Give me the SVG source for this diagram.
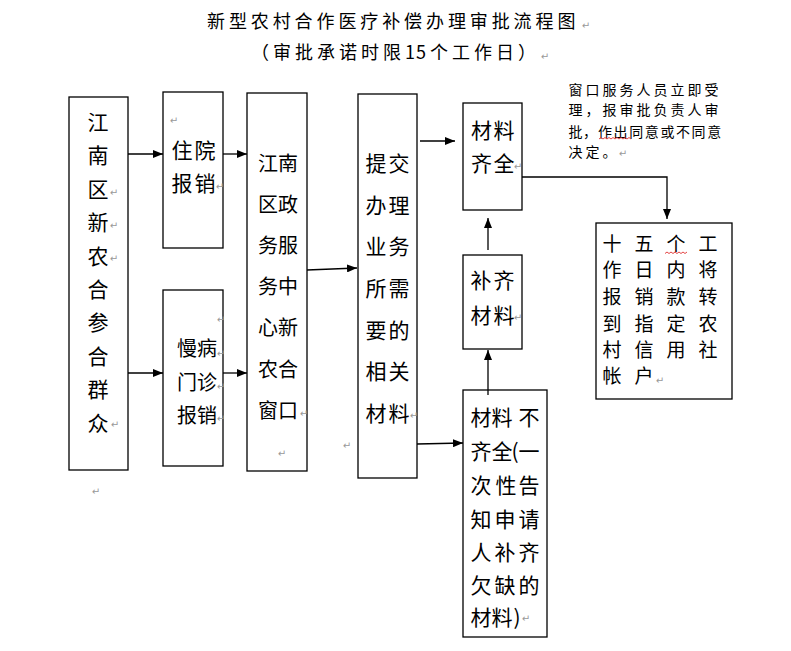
<svg xmlns="http://www.w3.org/2000/svg" width="791" height="651" viewBox="0 0 791 651">
<style>
.b{fill:#fff;stroke:#000;stroke-width:1.3}
.t{font-family:"Noto Sans CJK SC","Noto Sans CJK JP",sans-serif;fill:#000;text-anchor:middle}
.s{font-family:"Noto Sans CJK SC","Noto Sans CJK JP",sans-serif;fill:#000}
.f21{font-size:21px}
.f20{font-size:20px}
.f19{font-size:19px}
.r{font-family:"DejaVu Sans",sans-serif;font-size:10px;fill:#999;text-anchor:middle}
.c{stroke:#000;stroke-width:1.3;fill:none}
.w{stroke:#e03030;stroke-width:0.9;fill:none}
</style>
<defs>
<marker id="ah" markerUnits="userSpaceOnUse" markerWidth="10" markerHeight="8" refX="10" refY="4" orient="auto">
<path d="M0,0 L10,4 L0,8 z" fill="#000"/>
</marker>
</defs>
<rect width="791" height="651" fill="#fff"/>

<g id="title">
<text class="s" x="207" y="28" font-size="18" letter-spacing="3.9">新型农村合作医疗补偿办理审批流程图</text>
<text class="r" x="586" y="29">↵</text>
<text class="s" x="251" y="59" font-size="18" letter-spacing="4">（审批承诺时限<tspan letter-spacing="1">1</tspan>5个工作日）</text>
<text class="r" x="545" y="60">↵</text>
</g>

<g id="node-qunzhong">
<rect class="b" x="69" y="97" width="59" height="373"/>
<g class="t f21">
<text x="98" y="130">江</text>
<text x="98" y="163.4">南</text>
<text x="98" y="196.8">区</text>
<text x="98" y="230.2">新</text>
<text x="98" y="263.6">农</text>
<text x="98" y="297">合</text>
<text x="98" y="330.4">参</text>
<text x="98" y="363.8">合</text>
<text x="98" y="397.2">群</text>
<text x="98" y="430.6">众</text>
</g>
<text class="r" x="114" y="196">↵</text>
<text class="r" x="114" y="229">↵</text>
<text class="r" x="114" y="262">↵</text>
<text class="r" x="115" y="428">↵</text>
<text class="r" x="96" y="495">↵</text>
</g>

<g id="node-zhuyuan">
<rect class="b" x="163" y="92" width="60" height="156"/>
<text class="t f21" x="182 205" y="158">住院</text>
<text class="t f21" x="182 205" y="191">报销</text>
<text class="r" x="174" y="124">↵</text>
<text class="r" x="220" y="190">↵</text>
</g>

<g id="node-manbing">
<rect class="b" x="163" y="290" width="60" height="176"/>
<text class="t f20" x="187 207" y="355.6">慢病</text>
<text class="t f20" x="187 207" y="389.6">门诊</text>
<text class="t f20" x="187 207" y="422.6">报销</text>
<text class="r" x="221" y="323">↵</text>
<text class="r" x="221" y="357">↵</text>
<text class="r" x="221" y="390">↵</text>
<text class="r" x="221" y="422">↵</text>
</g>

<g id="node-chuangkou">
<rect class="b" x="247" y="93" width="60" height="378"/>
<g class="t f20">
<text x="268 288" y="170.6">江南</text>
<text x="268 288" y="211.8">区政</text>
<text x="268 288" y="253">务服</text>
<text x="268 288" y="294.2">务中</text>
<text x="268 288" y="335.4">心新</text>
<text x="268 288" y="376.6">农合</text>
<text x="268 288" y="417.8">窗口</text>
</g>
<text class="r" x="304" y="417">↵</text>
<text class="r" x="282" y="457">↵</text>
<text class="r" x="347" y="449">↵</text>
</g>

<g id="node-tijiao">
<rect class="b" x="358" y="94" width="59" height="384"/>
<g class="t f21">
<text x="376 399" y="171">提交</text>
<text x="376 399" y="212.7">办理</text>
<text x="376 399" y="254.3">业务</text>
<text x="376 399" y="296">所需</text>
<text x="376 399" y="337.7">要的</text>
<text x="376 399" y="379.3">相关</text>
<text x="376 399" y="421">材料</text>
</g>
<text class="r" x="414" y="419" font-size="9">↵</text>
</g>

<g id="node-qiquan">
<rect class="b" x="463" y="103" width="59" height="107"/>
<text class="t f21" x="481.5 504" y="138">材料</text>
<text class="t f21" x="481.5 504" y="171">齐全</text>
<text class="r" x="518" y="170">↵</text>
</g>

<g id="node-buqi">
<rect class="b" x="463" y="255" width="59" height="94"/>
<text class="t f21" x="481 504" y="288">补齐</text>
<text class="t f21" x="481 504" y="323">材料</text>
<text class="r" x="518" y="321">↵</text>
</g>

<g id="node-buqiquan">
<rect class="b" x="463" y="390" width="84" height="247"/>
<g class="t f21">
<text x="481 502 529" y="425">材料不</text>
<text x="481 502 515 529" y="459">齐全(一</text>
<text x="481 506 529" y="493">次性告</text>
<text x="481 505 529" y="527">知申请</text>
<text x="481 505 529" y="560">人补齐</text>
<text x="481 505 529" y="593">欠缺的</text>
<text x="481 502 517" y="625">材料)</text>
</g>
<text class="r" x="526" y="622">↵</text>
</g>

<g id="node-zhuanzhang">
<rect class="b" x="596" y="223" width="136" height="176"/>
<g class="t f19">
<text x="612 644 676 708" y="251">十五个工</text>
<text x="612 644 676 708" y="277">作日内将</text>
<text x="612 644 676 708" y="304">报销款转</text>
<text x="612 644 676 708" y="331">到指定农</text>
<text x="612 644 676 708" y="357">村信用社</text>
<text x="612 644" y="383">帐户</text>
</g>
<text class="r" x="660" y="384">↵</text>
<path class="w" d="M665,253.5 l2,-1.5 l2,1.5 l2,-1.5 l2,1.5 l2,-1.5 l2,1.5 l2,-1.5 l2,1.5 l2,-1.5 l2,1.5 l2,-1.5"/>
</g>

<g id="note">
<text class="s" x="568.5" y="95.3" font-size="14" letter-spacing="3">窗口服务人员立即受</text>
<text class="s" x="568.5" y="115.3" font-size="14" letter-spacing="3">理，报审批负责人审</text>
<text class="s" x="568.5 583 598 613.6 629.2 644.8 660.4 676 691.6 707.2" y="137.3" font-size="14">批，作出同意或不同意</text>
<text class="s" x="568.5" y="157.3" font-size="14" letter-spacing="3">决定。</text>
<text class="r" x="623" y="157">↵</text>
<path class="w" d="M599,139 l2,-1.5 l2,1.5 l2,-1.5 l2,1.5 l2,-1.5 l2,1.5 l2,-1.5 l2,1.5 l2,-1.5 l2,1.5 l2,-1.5 l2,1.5 l2,-1.5 l2,1.5 l2,-1.5 l2,1.5"/>
</g>

<g id="connectors">
<path class="c" marker-end="url(#ah)" d="M128,154 H163"/>
<path class="c" marker-end="url(#ah)" d="M223,154 H247"/>
<path class="c" marker-end="url(#ah)" d="M128,373 H163"/>
<path class="c" marker-end="url(#ah)" d="M223,373 H247"/>
<path class="c" marker-end="url(#ah)" d="M307,270 L357,268"/>
<path class="c" marker-end="url(#ah)" d="M420,141 L455,141"/>
<path class="c" marker-end="url(#ah)" d="M417,444 L463,443"/>
<path class="c" marker-end="url(#ah)" d="M488,395 V350"/>
<path class="c" marker-end="url(#ah)" d="M488,250 V218"/>
<path class="c" marker-end="url(#ah)" d="M522,177 H667 V219"/>
</g>
</svg>
